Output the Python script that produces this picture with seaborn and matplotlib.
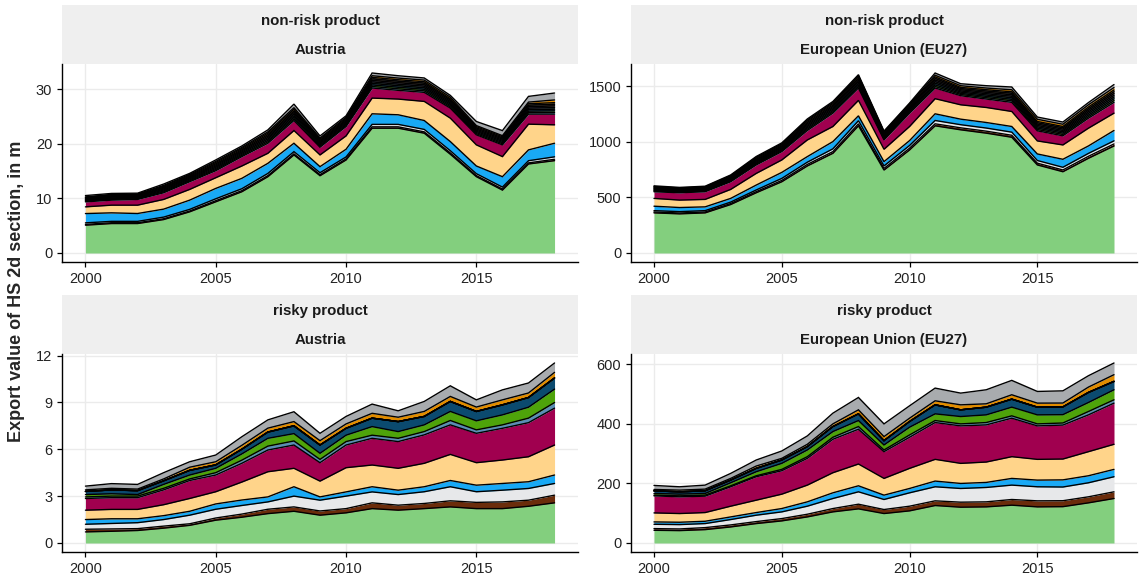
import numpy as np
import pandas as pd
import matplotlib.pyplot as plt
import seaborn as sns
from matplotlib.patches import Rectangle

# === data ===
years = list(range(2000, 2019))

# stacking order, bottom to top (X1..X4 are the tiny sections that only show up as a dark band)
sections = ["S01", "S02", "S03", "S04", "S05", "S06", "S07", "S08", "S09",
            "X1", "X2", "X3", "X4", "S10", "S11"]
section_colors = ["#83CF7E", "#6B2C0B", "#E7E8EA", "#19A9F5", "#FFD48A", "#A0004F",
                  "#5A8DB5", "#4EA30A", "#0B4A6F",
                  "#1E3B2B", "#2B2B4A", "#3A2618", "#222222",
                  "#E08C00", "#A8ABAE"]

risk_levels = ["non-risk product", "risky product"]
regions = ["Austria", "European Union (EU27)"]

# Austria, non-risk product
at_nonrisk = {
    "S01": [5.1, 5.4, 5.4, 6.13, 7.55, 9.39, 11.23, 13.99, 17.98, 14.17, 17.06, 22.88, 22.88, 21.96, 18.1, 13.99, 11.53, 16.32, 16.93],
    "S02": [0.15, 0.15, 0.15, 0.15, 0.15, 0.2, 0.2, 0.2, 0.2, 0.2, 0.2, 0.25, 0.25, 0.25, 0.25, 0.2, 0.2, 0.2, 0.25],
    "S03": [0.28, 0.25, 0.25, 0.3, 0.3, 0.35, 0.35, 0.4, 0.4, 0.35, 0.35, 0.45, 0.45, 0.45, 0.4, 0.35, 0.35, 0.4, 0.45],
    "S04": [1.7, 1.56, 1.44, 1.46, 1.69, 1.9, 1.9, 1.85, 1.54, 1.11, 1.41, 1.94, 1.76, 1.63, 1.68, 1.41, 1.91, 1.98, 2.49],
    "S05": [1.23, 1.41, 1.53, 1.78, 1.97, 1.96, 2.27, 1.84, 2.33, 2.15, 2.45, 2.88, 2.88, 3.5, 4.29, 3.87, 3.68, 4.72, 3.38],
    "S06": [0.92, 0.92, 1.05, 1.22, 1.41, 1.29, 1.72, 1.84, 1.84, 1.41, 1.72, 1.85, 1.6, 1.66, 1.84, 1.84, 2.15, 1.84, 1.96],
    "S07": [0.12, 0.14, 0.13, 0.17, 0.17, 0.21, 0.21, 0.26, 0.29, 0.21, 0.21, 0.28, 0.28, 0.28, 0.24, 0.21, 0.21, 0.27, 0.3],
    "S08": [0.11, 0.13, 0.13, 0.17, 0.17, 0.21, 0.21, 0.26, 0.29, 0.21, 0.21, 0.28, 0.28, 0.28, 0.24, 0.21, 0.21, 0.27, 0.3],
    "S09": [0.12, 0.14, 0.13, 0.18, 0.18, 0.22, 0.22, 0.27, 0.3, 0.22, 0.22, 0.28, 0.28, 0.28, 0.25, 0.22, 0.22, 0.28, 0.3],
    "X1": [0.11, 0.14, 0.13, 0.17, 0.17, 0.21, 0.21, 0.26, 0.29, 0.21, 0.21, 0.28, 0.28, 0.28, 0.24, 0.21, 0.21, 0.27, 0.3],
    "X2": [0.11, 0.13, 0.13, 0.17, 0.17, 0.21, 0.21, 0.26, 0.29, 0.21, 0.21, 0.27, 0.28, 0.27, 0.24, 0.21, 0.21, 0.27, 0.3],
    "X3": [0.12, 0.14, 0.12, 0.17, 0.17, 0.22, 0.21, 0.27, 0.29, 0.21, 0.22, 0.28, 0.27, 0.28, 0.25, 0.22, 0.21, 0.27, 0.3],
    "X4": [0.11, 0.13, 0.13, 0.17, 0.17, 0.22, 0.22, 0.26, 0.3, 0.22, 0.22, 0.28, 0.28, 0.28, 0.24, 0.22, 0.22, 0.27, 0.3],
    "S10": [0.1, 0.1, 0.1, 0.15, 0.15, 0.2, 0.2, 0.25, 0.3, 0.2, 0.2, 0.3, 0.3, 0.3, 0.3, 0.2, 0.2, 0.3, 0.5],
    "S11": [0.25, 0.18, 0.15, 0.25, 0.18, 0.27, 0.26, 0.36, 0.66, 0.38, 0.26, 0.5, 0.43, 0.39, 0.34, 0.75, 0.93, 1.05, 1.27],
}

# European Union (EU27), non-risk product
eu_nonrisk = {
    "S01": [361, 352, 361, 436, 542, 641, 783, 897, 1144, 746, 927, 1144, 1108, 1078, 1041, 792, 731, 852, 963],
    "S02": [8, 8, 8, 9, 10, 12, 14, 15, 18, 15, 16, 18, 18, 18, 18, 16, 16, 18, 18],
    "S03": [12, 12, 12, 13, 15, 18, 20, 25, 28, 22, 24, 30, 28, 28, 28, 24, 24, 26, 28],
    "S04": [40, 37, 34, 33, 44, 54, 50, 65, 44, 39, 44, 60, 50, 50, 51, 59, 72, 67, 93],
    "S05": [70, 67, 67, 81, 105, 112, 150, 136, 139, 111, 127, 136, 129, 135, 135, 117, 129, 160, 156],
    "S06": [60, 66, 69, 69, 76, 75, 85, 120, 111, 84, 120, 96, 82, 76, 82, 91, 82, 90, 97],
    "S07": [6, 6, 6, 7, 9, 9, 12, 12, 14, 9, 11, 14, 11, 12, 14, 12, 12, 14, 16],
    "S08": [6, 5, 6, 7, 8, 9, 12, 12, 14, 10, 10, 14, 10, 12, 13, 12, 12, 14, 16],
    "S09": [6, 6, 5, 7, 9, 9, 12, 13, 15, 9, 11, 15, 11, 12, 14, 12, 12, 15, 16],
    "X1": [6, 5.5, 5.7, 7, 8.5, 8.8, 12, 12, 14.3, 9.5, 10.7, 14.3, 10.7, 12, 13.5, 12, 12, 14.3, 15.8],
    "X2": [6, 5.5, 5.7, 7, 8.5, 8.8, 12, 12, 14.3, 9.5, 10.7, 14.3, 10.7, 12, 13.5, 12, 12, 14.3, 15.8],
    "X3": [6, 5.6, 5.7, 7, 8.6, 8.9, 12, 12, 14.3, 9.4, 10.7, 14.3, 10.7, 12, 13.6, 12, 12, 14.3, 15.9],
    "X4": [6, 5.6, 5.7, 7, 8.6, 8.9, 12, 12, 14.3, 9.4, 10.7, 14.3, 10.7, 12, 13.6, 12, 12, 14.3, 15.9],
    "S10": [5, 4, 5, 6, 8, 8, 10, 10, 10, 8, 8, 15, 15, 15, 18, 20, 20, 20, 22],
    "S11": [6, 5, 5, 6, 8, 8, 10, 10, 10, 6, 8, 20, 18, 21, 25, 20, 20, 20, 27],
}

# Austria, risky product
at_risky = {
    "S01": [0.71, 0.75, 0.8, 0.95, 1.13, 1.46, 1.65, 1.88, 2.03, 1.78, 1.93, 2.2, 2.1, 2.2, 2.31, 2.2, 2.2, 2.35, 2.57],
    "S02": [0.17, 0.15, 0.12, 0.13, 0.1, 0.14, 0.2, 0.28, 0.28, 0.27, 0.27, 0.37, 0.32, 0.33, 0.39, 0.4, 0.43, 0.39, 0.49],
    "S03": [0.32, 0.35, 0.38, 0.42, 0.55, 0.56, 0.55, 0.47, 0.69, 0.69, 0.8, 0.7, 0.68, 0.75, 0.9, 0.68, 0.75, 0.75, 0.75],
    "S04": [0.3, 0.3, 0.25, 0.25, 0.25, 0.34, 0.35, 0.32, 0.6, 0.21, 0.27, 0.33, 0.28, 0.32, 0.4, 0.42, 0.43, 0.43, 0.54],
    "S05": [0.6, 0.6, 0.6, 0.7, 0.82, 0.78, 1.15, 1.61, 1.18, 1.01, 1.55, 1.39, 1.4, 1.5, 1.67, 1.44, 1.5, 1.6, 1.92],
    "S06": [0.75, 0.75, 0.75, 0.95, 1.15, 1.07, 1.2, 1.39, 1.49, 1.18, 1.45, 1.71, 1.71, 1.82, 1.89, 1.88, 2.03, 2.18, 2.36],
    "S07": [0.1, 0.1, 0.1, 0.1, 0.1, 0.15, 0.2, 0.25, 0.26, 0.21, 0.22, 0.2, 0.21, 0.21, 0.28, 0.22, 0.22, 0.29, 0.36],
    "S08": [0.15, 0.15, 0.1, 0.25, 0.25, 0.28, 0.4, 0.5, 0.47, 0.39, 0.41, 0.55, 0.43, 0.43, 0.58, 0.58, 0.64, 0.7, 0.86],
    "S09": [0.2, 0.25, 0.25, 0.23, 0.3, 0.22, 0.3, 0.4, 0.5, 0.53, 0.44, 0.54, 0.64, 0.54, 0.64, 0.6, 0.64, 0.62, 0.71],
    "X1": [0.0] * 19,
    "X2": [0.0] * 19,
    "X3": [0.0] * 19,
    "X4": [0.0] * 19,
    "S10": [0.1, 0.1, 0.1, 0.12, 0.2, 0.2, 0.25, 0.25, 0.27, 0.28, 0.28, 0.31, 0.28, 0.32, 0.32, 0.28, 0.32, 0.29, 0.36],
    "S11": [0.24, 0.3, 0.3, 0.4, 0.35, 0.43, 0.55, 0.53, 0.63, 0.47, 0.48, 0.59, 0.41, 0.64, 0.68, 0.46, 0.64, 0.64, 0.6],
}

# European Union (EU27), risky product
eu_risky = {
    "S01": [42.7, 41.6, 44.9, 53.9, 65.2, 74.2, 87.6, 104.5, 114.6, 98.9, 107.9, 125.8, 120.2, 121.3, 127.0, 121.3, 122, 134.8, 149.4],
    "S02": [5.6, 5.6, 6.8, 6.8, 6.7, 7.8, 9.0, 11.2, 15.7, 13.5, 15.7, 15.8, 16.9, 16.9, 19.1, 20.3, 20, 20.3, 22.5],
    "S03": [14.6, 14.6, 13.5, 18.0, 21.4, 22.5, 27.0, 33.7, 41.6, 33.7, 44.9, 47.2, 46.0, 48.3, 48.3, 47.2, 46, 47.1, 50.6],
    "S04": [7.9, 7.9, 7.8, 8.9, 8.9, 11.2, 14.6, 19.1, 20.2, 14.6, 14.6, 19.1, 16.9, 16.9, 22.5, 22.4, 24, 23.6, 24.7],
    "S05": [30.3, 29.2, 29.2, 36.0, 41.6, 48.3, 56.2, 67.5, 73.1, 56.2, 67.5, 73.0, 67.4, 68.5, 73.0, 69.7, 70, 80.9, 84.3],
    "S06": [57.3, 56.2, 55.1, 65.2, 78.7, 78.7, 89.9, 112.3, 116.8, 89.8, 104.5, 123.6, 125.9, 124.7, 129.2, 112.4, 114, 123.6, 138.2],
    "S07": [2.3, 3.3, 3.4, 3.3, 3.3, 4.5, 5.6, 6.8, 9.0, 5.7, 7.8, 6.7, 6.7, 7.9, 7.9, 6.7, 7, 11.3, 11.2],
    "S08": [5.6, 5.6, 5.6, 10.1, 13.5, 20.2, 22.5, 19.1, 20.2, 16.8, 25.9, 22.5, 24.7, 25.8, 29.2, 30.3, 28, 30.3, 33.7],
    "S09": [9.0, 7.9, 9.0, 9.0, 11.3, 11.3, 11.2, 16.8, 22.5, 14.6, 19.1, 30.3, 22.5, 25.9, 26.9, 25.9, 26, 33.7, 28.1],
    "X1": [0.0] * 19,
    "X2": [0.0] * 19,
    "X3": [0.0] * 19,
    "X4": [0.0] * 19,
    "S10": [4.5, 5.6, 5.6, 5.7, 7.8, 5.6, 7.9, 9.0, 13.5, 13.5, 11.2, 13.5, 16.8, 11.2, 14.7, 13.5, 13, 18.0, 22.5],
    "S11": [13.5, 11.3, 13.5, 16.8, 20.3, 24.7, 28.1, 36.0, 41.6, 42.7, 41.6, 42.7, 39.4, 47.2, 48.3, 39.3, 41, 38.2, 39.3],
}

y_ticks = {
    ("non-risk product", "Austria"): [0, 10, 20, 30],
    ("non-risk product", "European Union (EU27)"): [0, 500, 1000, 1500],
    ("risky product", "Austria"): [0, 3, 6, 9, 12],
    ("risky product", "European Union (EU27)"): [0, 200, 400, 600],
}
x_ticks = [2000, 2005, 2010, 2015]

# === long table ===
panels = [
    ("non-risk product", "Austria", at_nonrisk),
    ("non-risk product", "European Union (EU27)", eu_nonrisk),
    ("risky product", "Austria", at_risky),
    ("risky product", "European Union (EU27)", eu_risky),
]
rows = []
for risk, region, table in panels:
    for sec in sections:
        for yr, val in zip(years, table[sec]):
            rows.append({"risk": risk, "region": region, "year": yr,
                         "section": sec, "value": val})
df = pd.DataFrame(rows)

# === style ===
sns.set_theme(style="ticks")
plt.rcParams["font.family"] = ["Liberation Sans", "DejaVu Sans"]


def draw_stack(data, color=None, label=None, **kws):
    ax = plt.gca()
    wide = data.pivot(index="year", columns="section", values="value")[sections]
    ax.stackplot(wide.index, wide.T.values, colors=section_colors, linewidth=0)
    # outline only on the upper edge of every area (like geom_area)
    cum = wide.cumsum(axis=1)
    for sec in sections:
        ax.plot(cum.index, cum[sec], color="black", lw=1.0, solid_joinstyle="miter")
    top = cum[sections[-1]].max()
    ax.set_ylim(-0.05 * top, 1.05 * top)
    span = wide.index.max() - wide.index.min()
    ax.set_xlim(wide.index.min() - 0.05 * span, wide.index.max() + 0.05 * span)


g = sns.FacetGrid(df, row="risk", col="region", row_order=risk_levels,
                  col_order=regions, sharex=False, sharey=False)
g.map_dataframe(draw_stack)
g.set_titles("")
g.set_axis_labels("", "")

fig = g.figure
fig.set_size_inches(11.39, 5.8)
W, H = 1139, 580
boxes = {
    (0, 0): (62, 64, 578, 262),
    (0, 1): (631, 64, 1137, 262),
    (1, 0): (62, 354, 578, 552),
    (1, 1): (631, 354, 1137, 552),
}
for i, risk in enumerate(risk_levels):
    for j, region in enumerate(regions):
        ax = g.axes[i, j]
        x0, y0, x1, y1 = boxes[(i, j)]
        ax.set_position([x0 / W, 1 - y1 / H, (x1 - x0) / W, (y1 - y0) / H])
        ax.set_yticks(y_ticks[(risk, region)])
        ax.set_xticks(x_ticks)
        ax.grid(True, color="#EBEBEB", lw=1.0)
        ax.set_axisbelow(True)
        for side in ["top", "right"]:
            ax.spines[side].set_visible(False)
        for side in ["left", "bottom"]:
            ax.spines[side].set_color("black")
            ax.spines[side].set_linewidth(1.0)
        ax.tick_params(axis="both", colors="black", labelcolor="#222222",
                       labelsize=10.5, length=3.5, width=0.9, direction="out")
        # facet strip
        strip_h = 59 / (y1 - y0)
        ax.add_patch(Rectangle((0, 1), 1, strip_h, transform=ax.transAxes,
                               facecolor="#EFEFEF", edgecolor="none", clip_on=False))
        ax.text(0.5, 1 + 43 / (y1 - y0), risk, transform=ax.transAxes,
                ha="center", va="center", fontsize=10.8, fontweight="bold", color="#1A1A1A")
        ax.text(0.5, 1 + 14 / (y1 - y0), region, transform=ax.transAxes,
                ha="center", va="center", fontsize=10.8, fontweight="bold", color="#1A1A1A")

fig.text(17 / W, 1 - 291 / H, "Export value of HS 2d section, in m", rotation=90,
         ha="center", va="center", fontsize=13, fontweight="bold")

fig.savefig("out.png", dpi=100, facecolor="white")
